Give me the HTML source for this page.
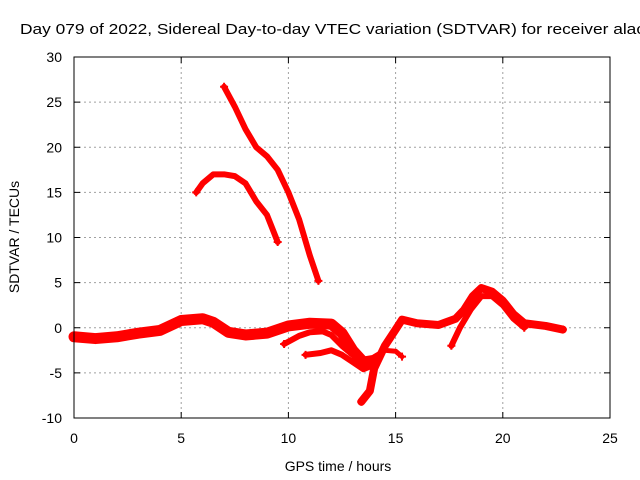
<!DOCTYPE html>
<html><head><meta charset="utf-8"><style>
body{margin:0;background:#fff;}
svg{display:block;font-family:"Liberation Sans",sans-serif;}
</style></head><body>
<svg id="chart" width="640" height="480" xmlns="http://www.w3.org/2000/svg">
<rect width="640" height="480" fill="#fff"/>
<text x="20" y="34" font-size="15" textLength="625" lengthAdjust="spacingAndGlyphs" fill="#000">Day 079 of 2022, Sidereal Day-to-day VTEC variation (SDTVAR) for receiver alac</text>
<g id="grid"></g>
<g id="series"></g>
<rect x="74" y="57" width="536" height="361" fill="none" stroke="#000" stroke-width="1"/>
<g id="ticks"></g>
<text x="338" y="471" font-size="14" text-anchor="middle">GPS time / hours</text>
<text transform="translate(19,237) rotate(-90)" font-size="14" text-anchor="middle">SDTVAR / TECUs</text>
</svg>
<script>
const xTicks=[0,5,10,15,20,25];
const yTicks=[-10,-5,0,5,10,15,20,25,30];
const bandMain=[[0,-1],[1,-1.2],[2,-1],[3,-0.6],[4,-0.3],[5,0.8],[6,1.0],[6.5,0.6],[7.2,-0.5],[8,-0.8],[9,-0.6],[10,0.2],[11,0.5],[12,0.4],[12.5,-0.6],[13,-2.5],[13.5,-3.8],[14,-3.6]];
const branchB=[[9.8,-1.8],[10.5,-0.9],[11,-0.5],[11.6,-0.4],[12,-0.8],[12.5,-2],[13,-3]];
const branchC=[[10.8,-3],[11.5,-2.8],[12,-2.5],[12.5,-3],[13,-3.8],[13.5,-4.6],[13.9,-4.2]];
const branchD=[[13.4,-8.2],[13.8,-7],[14,-4.5],[14.5,-2],[15,-0.2],[15.3,0.9],[16,0.5],[17,0.3],[17.8,1],[18.2,2],[18.6,3.5],[19,4.4],[19.5,4],[20,3],[20.5,1.5],[21,0.5],[22,0.2],[22.8,-0.2]];
const branchE=[[13.6,-4],[14,-3.2],[14.5,-2.5],[15,-2.6],[15.3,-3.2]];
const branchF=[[17.6,-2],[18,0],[18.5,2],[19,3.5],[19.5,3.5],[20,2.5],[20.5,1],[21,0]];
const upperG=[[7,26.7],[7.5,24.5],[8,22],[8.5,20],[9,19],[9.5,17.5],[10,15],[10.5,12],[11,8],[11.4,5.2]];
const upperH=[[5.7,15],[6,16],[6.5,17],[7,17],[7.5,16.8],[8,16],[8.5,14],[9,12.5],[9.5,9.5]];
const seriesList=[[bandMain,11,'band-main'],[branchB,6,'branch-b'],[branchC,6,'branch-c'],[branchD,8,'branch-d'],[branchE,5,'branch-e'],[branchF,6,'branch-f'],[upperG,6,'upper-curve-g'],[upperH,6,'upper-curve-h']];
const X=h=>74+h*536/25, Y=v=>57+(30-v)*361/40;
const NS='http://www.w3.org/2000/svg';
const grid=document.getElementById('grid'),ticks=document.getElementById('ticks'),ser=document.getElementById('series');
function mk(t,a,p){const e=document.createElementNS(NS,t);for(const k in a)e.setAttribute(k,a[k]);p.appendChild(e);return e;}
xTicks.forEach(t=>{const x=X(t);
 if(t>0&&t<25){const l=mk('line',{x1:x,x2:x,y1:57,y2:418,stroke:'#a0a0a0','stroke-dasharray':'2,3'},grid);}
 mk('line',{x1:x,x2:x,y1:418,y2:412,stroke:'#000'},ticks);mk('line',{x1:x,x2:x,y1:57,y2:63,stroke:'#000'},ticks);
 const tx=mk('text',{x:x,y:443,'font-size':14,'text-anchor':'middle'},ticks);tx.textContent=t;
 });
yTicks.forEach(t=>{const y=Y(t);
 if(t>-10&&t<30){const l=mk('line',{x1:74,x2:610,y1:y,y2:y,stroke:'#a0a0a0','stroke-dasharray':'2,3'},grid);}
 mk('line',{x1:74,x2:80,y1:y,y2:y,stroke:'#000'},ticks);mk('line',{x1:604,x2:610,y1:y,y2:y,stroke:'#000'},ticks);
 const tx=mk('text',{x:62,y:y+5,'font-size':14,'text-anchor':'end'},ticks);tx.textContent=t;
 });
seriesList.forEach(([pts,w,name])=>{
 const pl=mk('polyline',{points:pts.map(p=>X(p[0])+','+Y(p[1])).join(' '),fill:'none',stroke:'#ff0000','stroke-width':w,'stroke-linejoin':'round','stroke-linecap':'round'},ser);
 
 
 [pts[0],pts[pts.length-1]].forEach(p=>{const x=X(p[0]),y=Y(p[1]);
  const m=mk('path',{d:`M${x-4},${y}H${x+4}M${x},${y-4}V${y+4}`,stroke:'#ff0000','stroke-width':2},ser);
  
  });
});
</script>
</body></html>
